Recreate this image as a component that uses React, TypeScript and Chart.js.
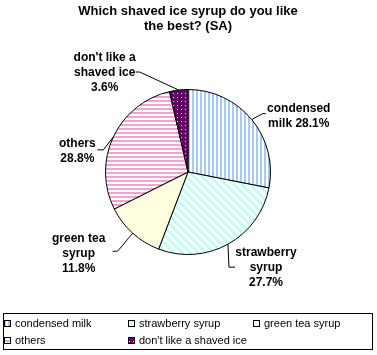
import React, { useEffect, useRef } from "react";
import { Chart, registerables } from "chart.js";
Chart.register(...registerables);

const titleLines = ["Which shaved ice syrup do you like", "the best? (SA)"];
const categories = [
  "condensed milk",
  "strawberry syrup",
  "green tea syrup",
  "others",
  "don't like a shaved ice",
];
const values = [28.1, 27.7, 11.8, 28.8, 3.6];
const labelTemplates = [
  ["condensed", "milk {v}"],
  ["strawberry", "syrup", "{v}"],
  ["green tea", "syrup", "{v}"],
  ["others", "{v}"],
  ["don't like a", "shaved ice", "{v}"],
];

const labelLayout = [
  { dx: 47, dy: -11, leader: [[11, -6], [14, -6]] },
  { dx: 38, dy: 9, leader: [[1, 23], [7, 23]] },
  { dx: -54, dy: 5, leader: [[-15, 18], [-20, 18]] },
  { dx: -36, dy: 7, leader: [[-10, 13], [-16, 13]] },
  { dx: -74, dy: -32, leader: [[-39, -18], [-43, -18]] },
];

const W = 377;
const H = 355;

function makePattern(kind: number): CanvasPattern | string {
  const c = document.createElement("canvas");
  const size = kind === 1 ? 8 : 4;
  c.width = size;
  c.height = size;
  const g = c.getContext("2d")!;
  if (kind === 0) {
    g.fillStyle = "#ffffff";
    g.fillRect(0, 0, 4, 4);
    g.fillStyle = "#a6caf0";
    g.fillRect(0, 0, 2, 4);
  } else if (kind === 1) {
    g.fillStyle = "#ffffff";
    g.fillRect(0, 0, 8, 8);
    g.fillStyle = "#c4fff4";
    for (let y = 0; y < 8; y++) {
      for (let x = 0; x < 8; x++) {
        if ((((x - y) % 8) + 8) % 8 < 4) g.fillRect(x, y, 1, 1);
      }
    }
  } else if (kind === 2) {
    g.fillStyle = "#ffffe0";
    g.fillRect(0, 0, 4, 4);
    g.fillStyle = "#f6f6d2";
    g.fillRect(1, 1, 1, 1);
  } else if (kind === 3) {
    g.fillStyle = "#ffffff";
    g.fillRect(0, 0, 4, 4);
    g.fillStyle = "#f4a2d2";
    g.fillRect(0, 0, 4, 2);
  } else {
    g.fillStyle = "#660066";
    g.fillRect(0, 0, 4, 4);
    g.fillStyle = "#ffffff";
    g.fillRect(1, 1, 1, 1);
  }
  const p = g.createPattern(c, "repeat");
  return p || "#ccc";
}

export default function App() {
  const ref = useRef<HTMLCanvasElement>(null);
  useEffect(() => {
    const canvas = ref.current!;
    const fills = categories.map((_, i) => makePattern(i));

    const overlay = {
      id: "overlay",
      afterDraw(chart: any) {
        const ctx = chart.ctx as CanvasRenderingContext2D;
        ctx.save();
        // title
        ctx.fillStyle = "#000";
        ctx.font = "bold 13px 'Liberation Sans', Arial, sans-serif";
        ctx.textAlign = "center";
        ctx.textBaseline = "middle";
        titleLines.forEach((t, i) => ctx.fillText(t, 188, 11 + i * 15));

        // labels
        const meta = chart.getDatasetMeta(0);
        ctx.font = "bold 12px 'Liberation Sans', Arial, sans-serif";
        meta.data.forEach((arc: any, i: number) => {
          const { x, y, startAngle, endAngle, outerRadius } = arc.getProps(
            ["x", "y", "startAngle", "endAngle", "outerRadius"],
            true
          );
          const mid = (startAngle + endAngle) / 2;
          const ax = x + outerRadius * Math.cos(mid);
          const ay = y + outerRadius * Math.sin(mid);
          const lay = labelLayout[i];
          ctx.strokeStyle = "#000";
          ctx.lineWidth = 1;
          ctx.beginPath();
          ctx.moveTo(ax, ay);
          lay.leader.forEach(([lx, ly]) => ctx.lineTo(ax + lx, ay + ly));
          ctx.stroke();
          const v = values[i].toFixed(1) + "%";
          labelTemplates[i].forEach((line, j) => {
            ctx.fillText(line.replace("{v}", v), ax + lay.dx, ay + lay.dy + j * 15);
          });
        });

        // legend
        ctx.strokeStyle = "#000";
        ctx.lineWidth = 1;
        ctx.strokeRect(3.5, 313.5, 369, 36);
        ctx.font = "11px 'Liberation Sans', Arial, sans-serif";
        ctx.textAlign = "left";
        const colX = [4, 128, 253];
        const rowY = [324, 341];
        categories.forEach((name, i) => {
          const cx = colX[i % 3];
          const cy = rowY[Math.floor(i / 3)];
          ctx.fillStyle = fills[i] as any;
          ctx.fillRect(cx, cy - 4, 7, 7);
          ctx.strokeRect(cx + 0.5, cy - 3.5, 6, 6);
          ctx.fillStyle = "#000";
          ctx.fillText(name, cx + 11, cy);
        });
        ctx.restore();
      },
    };

    const chart = new Chart(canvas, {
      type: "pie",
      data: {
        labels: categories,
        datasets: [
          {
            data: values,
            backgroundColor: fills as any,
            borderColor: "#000",
            borderWidth: 1,
          },
        ],
      },
      options: {
        animation: false,
        responsive: false,
        devicePixelRatio: 1,
        layout: { padding: { top: 89, bottom: 100, left: 105, right: 106 } },
        plugins: {
          legend: { display: false },
          tooltip: { enabled: false },
          title: { display: false },
        },
      },
      plugins: [overlay],
    });
    return () => chart.destroy();
  }, []);

  return (
    <div style={{ position: "absolute", left: 0, top: 0, width: W, height: H, background: "#fff" }}>
      <canvas ref={ref} width={W} height={H} style={{ display: "block", width: W, height: H }} />
    </div>
  );
}
